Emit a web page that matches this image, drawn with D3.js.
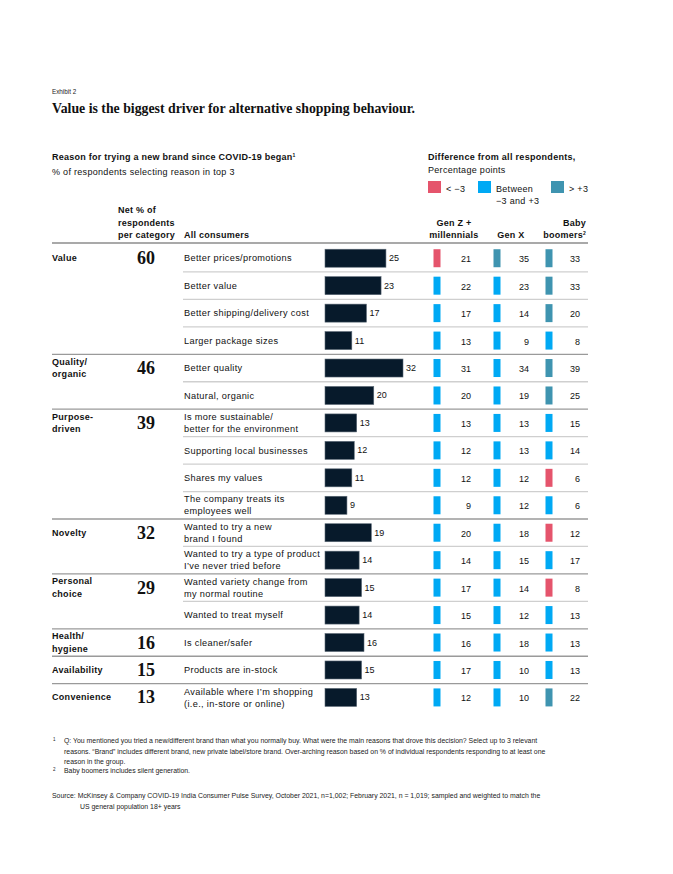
<!DOCTYPE html>
<html>
<head>
<meta charset="utf-8">
<script src="https://cdn.jsdelivr.net/npm/d3@7"></script>
<style>
  body { margin: 0; background: #fff; }
  svg { font-family: "Liberation Sans", Arial, sans-serif; }
</style>
</head>
<body>
<div id="chart"></div>
<script>
// Groups (over-arching reasons) and net % of respondents
var groups = ["Value", "Quality/|organic", "Purpose-|driven", "Novelty", "Personal|choice", "Health/|hygiene", "Availability", "Convenience"];
var groupNet = [60, 46, 39, 32, 29, 16, 15, 13];
var groupSize = [4, 2, 4, 2, 2, 1, 1, 1];

var reasons = [
  "Better prices/promotions", "Better value", "Better shipping/delivery cost", "Larger package sizes",
  "Better quality", "Natural, organic",
  "Is more sustainable/|better for the environment", "Supporting local businesses", "Shares my values", "The company treats its|employees well",
  "Wanted to try a new|brand I found", "Wanted to try a type of product|I’ve never tried before",
  "Wanted variety change from|my normal routine", "Wanted to treat myself",
  "Is cleaner/safer", "Products are in-stock",
  "Available where I’m shopping|(i.e., in-store or online)"
];
var allConsumers = [25, 23, 17, 11, 32, 20, 13, 12, 11, 9, 19, 14, 15, 14, 16, 15, 13];
var genZ =     [21, 22, 17, 13, 31, 20, 13, 12, 12, 9, 20, 14, 17, 15, 16, 17, 12];
var genX =     [35, 23, 14, 9, 34, 19, 13, 13, 12, 12, 18, 15, 14, 12, 18, 10, 10];
var boomers =  [33, 33, 20, 8, 39, 25, 15, 14, 6, 6, 12, 17, 8, 13, 13, 13, 22];
// difference band: -1 = < -3, 0 = between, 1 = > +3
var genZBand =    [-1, 0, 0, 0, 0, 0, 0, 0, 0, 0, 0, 0, 0, 0, 0, 0, 0];
var genXBand =    [1, 0, 0, 0, 0, 0, 0, 0, 0, 0, 0, 0, 0, 0, 0, 0, 0];
var boomersBand = [1, 1, 1, 0, 1, 1, 0, 0, -1, 0, -1, 0, -1, 0, 0, 0, 1];

var width = 673, height = 874;
var svg = d3.select("#chart").append("svg")
  .attr("width", width)
  .attr("height", height);

var bandColor = d3.scaleOrdinal().domain([-1, 0, 1]).range(["#e5546c", "#00a9f4", "#3f94b0"]);

var FS = 9, LS = 0.3;   // body font size / letter spacing

// Header text
svg.append("text").attr("x", 52).attr("y", 94).attr("font-size", 6.3).attr("fill", "#222").text("Exhibit 2");
svg.append("text").attr("x", 52).attr("y", 113)
  .attr("font-family", "'Liberation Serif', serif").attr("font-weight", "bold")
  .attr("font-size", 13.8).attr("fill", "#111")
  .text("Value is the biggest driver for alternative shopping behaviour.");

var sub = svg.append("text").attr("x", 52).attr("y", 160).attr("font-size", FS).attr("letter-spacing", 0.25)
  .attr("font-weight", "bold").attr("fill", "#111");
sub.append("tspan").text("Reason for trying a new brand since COVID-19 began");
sub.append("tspan").attr("font-size", 5).attr("dy", -3).text("1");
svg.append("text").attr("x", 52).attr("y", 175).attr("font-size", FS).attr("letter-spacing", LS)
  .attr("fill", "#111").text("% of respondents selecting reason in top 3");

svg.append("text").attr("x", 428).attr("y", 160).attr("font-size", FS).attr("letter-spacing", LS)
  .attr("font-weight", "bold").attr("fill", "#111").text("Difference from all respondents,");
svg.append("text").attr("x", 428).attr("y", 173).attr("font-size", FS).attr("letter-spacing", LS)
  .attr("fill", "#111").text("Percentage points");

// Legend
var legend = [{b: -1, x: 428, t: ["< −3"]}, {b: 0, x: 478, t: ["Between", "−3 and +3"]}, {b: 1, x: 551, t: ["> +3"]}];
legend.forEach(function(l) {
  svg.append("rect").attr("x", l.x).attr("y", 181).attr("width", 13).attr("height", 12).attr("fill", bandColor(l.b));
  l.t.forEach(function(s, i) {
    svg.append("text").attr("x", l.x + 18).attr("y", 192 + i * 12).attr("font-size", FS).attr("letter-spacing", LS)
      .attr("fill", "#111").text(s);
  });
});

// Column headers
function multiLine(x, yLast, lines, anchor) {
  var t = svg.append("text").attr("x", x).attr("text-anchor", anchor).attr("font-size", FS)
    .attr("letter-spacing", 0.25).attr("font-weight", "bold").attr("fill", "#111");
  lines.forEach(function(s, i) {
    t.append("tspan").attr("x", x).attr("y", yLast - (lines.length - 1 - i) * 12.5).text(s);
  });
  return t;
}
multiLine(118, 238, ["Net % of", "respondents", "per category"], "start");
multiLine(184, 238, ["All consumers"], "start");
multiLine(454, 238, ["Gen Z +", "millennials"], "middle");
multiLine(511, 238, ["Gen X"], "middle");
var bb = multiLine(586, 238, ["Baby", "boomers"], "end");
bb.select("tspan:last-child").append("tspan").attr("font-size", 5).attr("dy", -3).text("2");

// Row scale
var y = d3.scaleBand().domain(d3.range(reasons.length)).range([244.5, 244.5 + 27.45 * reasons.length]);
var x = d3.scaleLinear().domain([0, 32]).range([325, 403]);

// top rule
svg.append("line").attr("x1", 52).attr("x2", 588).attr("y1", 243).attr("y2", 243)
  .attr("stroke", "#8c8c8c").attr("stroke-width", 1.3);

// group starts
var starts = [];
var acc = 0;
groupSize.forEach(function(n) { starts.push(acc); acc += n; });

// separators
d3.range(1, reasons.length).forEach(function(i) {
  var isGroup = starts.indexOf(i) >= 0;
  svg.append("line")
    .attr("x1", isGroup ? 52 : 183).attr("x2", 588)
    .attr("y1", y(i)).attr("y2", y(i))
    .attr("stroke", isGroup ? "#9a9a9a" : "#cfcfcf")
    .attr("stroke-width", 1.3);
});

// group labels and net numbers
groups.forEach(function(g, gi) {
  var first = starts[gi];
  var cy = y(first) + y.bandwidth() / 2;
  var lines = g.split("|");
  var t = svg.append("text").attr("font-size", FS).attr("letter-spacing", LS)
    .attr("font-weight", "bold").attr("fill", "#111");
  lines.forEach(function(s, i) {
    t.append("tspan").attr("x", 52).attr("y", cy + 3 + (i - (lines.length - 1) / 2) * 12.5).text(s);
  });
  svg.append("text").attr("x", 146).attr("y", cy + 6).attr("text-anchor", "middle")
    .attr("font-family", "'Liberation Serif', serif").attr("font-weight", "bold")
    .attr("font-size", 18).attr("fill", "#111").text(groupNet[gi]);
});

// reason labels
reasons.forEach(function(r, i) {
  var cy = y(i) + y.bandwidth() / 2;
  var lines = r.split("|");
  var t = svg.append("text").attr("font-size", 9.2).attr("letter-spacing", 0.35).attr("fill", "#111");
  lines.forEach(function(s, k) {
    t.append("tspan").attr("x", 184).attr("y", cy + 3.2 + (k - (lines.length - 1) / 2) * 12).text(s);
  });
});

// All consumers bars
svg.append("g").selectAll("rect").data(allConsumers).enter().append("rect")
  .attr("x", x(0))
  .attr("y", function(d, i) { return y(i) + y.bandwidth() / 2 - 9; })
  .attr("width", function(d) { return x(d) - x(0); })
  .attr("height", 18)
  .attr("fill", "#071a2b")
  .attr("stroke", "#5a6875").attr("stroke-width", 0.6);
svg.append("g").selectAll("text").data(allConsumers).enter().append("text")
  .attr("x", function(d) { return x(d) + 3; })
  .attr("y", function(d, i) { return y(i) + y.bandwidth() / 2 + 3; })
  .attr("font-size", FS).attr("fill", "#111")
  .text(function(d) { return d; });

// Generation columns
var cols = [
  {vals: genZ, bands: genZBand, mx: 433.5, tx: 471},
  {vals: genX, bands: genXBand, mx: 493.5, tx: 529},
  {vals: boomers, bands: boomersBand, mx: 545.5, tx: 580}
];
cols.forEach(function(c) {
  var g = svg.append("g");
  g.selectAll("rect").data(c.vals).enter().append("rect")
    .attr("x", c.mx)
    .attr("y", function(d, i) { return y(i) + y.bandwidth() / 2 - 9; })
    .attr("width", 7).attr("height", 18)
    .attr("fill", function(d, i) { return bandColor(c.bands[i]); });
  g.selectAll("text").data(c.vals).enter().append("text")
    .attr("x", c.tx).attr("text-anchor", "end")
    .attr("y", function(d, i) { return y(i) + y.bandwidth() / 2 + 4; })
    .attr("font-size", FS).attr("fill", "#111")
    .text(function(d) { return d; });
});

// Footnotes
var fn = [
  {y: 743, x: 64, t: "Q: You mentioned you tried a new/different brand than what you normally buy. What were the main reasons that drove this decision? Select up to 3 relevant", mark: "1"},
  {y: 754, x: 64, t: "reasons. “Brand” includes different brand, new private label/store brand. Over-arching reason based on % of individual respondents responding to at least one"},
  {y: 764, x: 64, t: "reason in the group."},
  {y: 773, x: 64, t: "Baby boomers includes silent generation.", mark: "2"},
  {y: 798, x: 52, t: "Source: McKinsey & Company COVID-19 India Consumer Pulse Survey, October 2021, n=1,002; February 2021, n = 1,019; sampled and weighted to match the"},
  {y: 809, x: 80, t: "US general population 18+ years"}
];
fn.forEach(function(f) {
  svg.append("text").attr("x", f.x).attr("y", f.y).attr("font-size", 6.9).attr("fill", "#222").text(f.t);
  if (f.mark) svg.append("text").attr("x", 53).attr("y", f.y - 2).attr("font-size", 4.5).attr("fill", "#222").text(f.mark);
});
</script>
</body>
</html>
